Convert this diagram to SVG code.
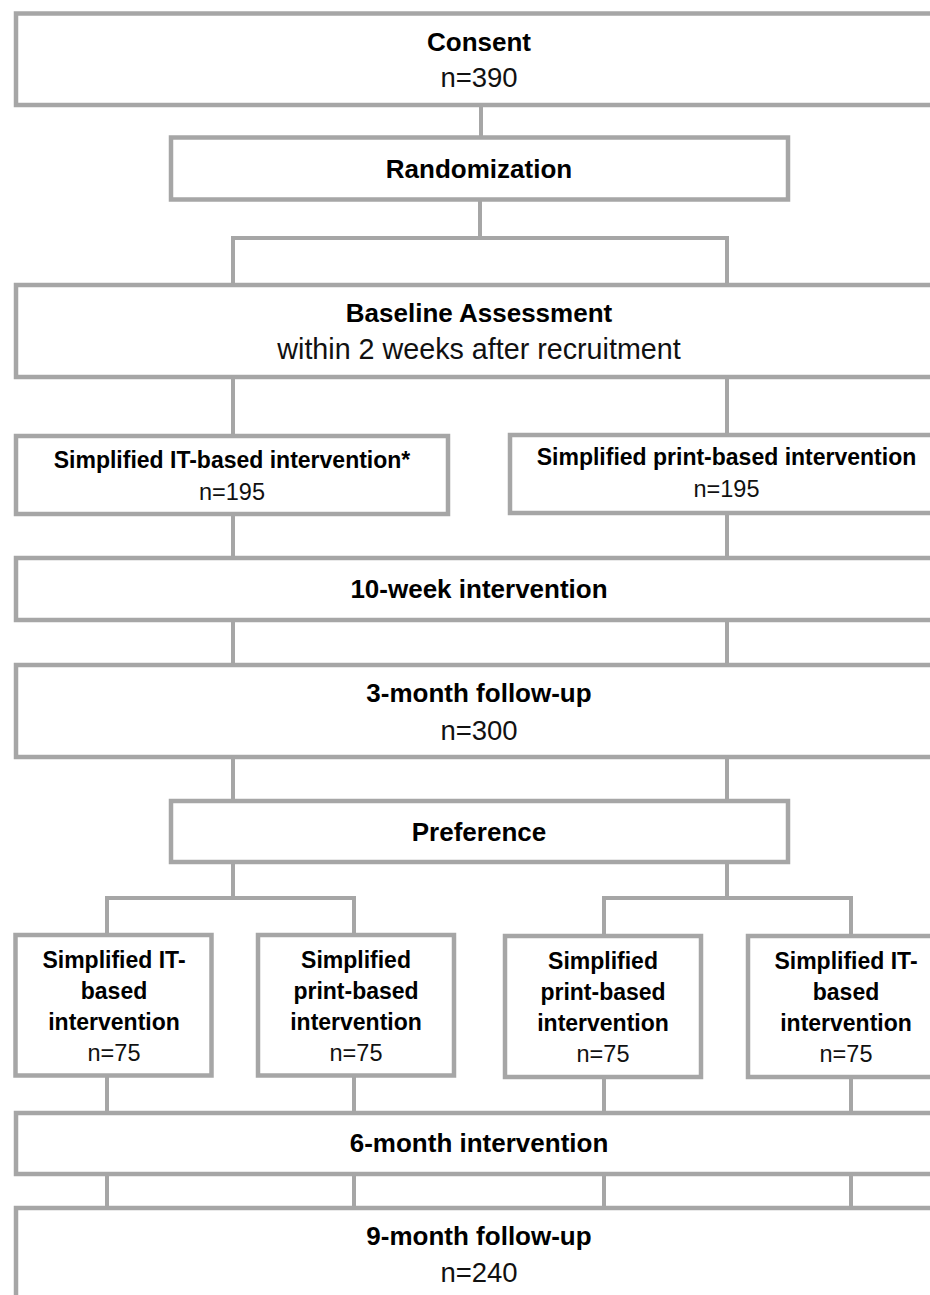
<svg xmlns="http://www.w3.org/2000/svg" width="930" height="1295" viewBox="0 0 930 1295">
<style>
.box{fill:#fff;stroke:#a6a6a6;stroke-width:4.5}
.ln{fill:none;stroke:#a6a6a6;stroke-width:4}
text{font-family:"Liberation Sans",Arial,sans-serif;text-anchor:middle;fill:#000}
.b{font-weight:bold;font-size:26px}
.r{font-size:27.5px;fill:#111}
.bs{font-weight:bold;font-size:23px}
.rs{font-size:23.5px;fill:#111}
</style>
<rect width="930" height="1295" fill="#fff"/>
<g id="connectors">
<path class="ln" d="M481,105 V138"/>
<path class="ln" d="M480,200 V238"/>
<path class="ln" d="M233,285 V238 H727 V285"/>
<path class="ln" d="M233,377 V436 M727,377 V435"/>
<path class="ln" d="M233,514 V558 M727,513 V558"/>
<path class="ln" d="M233,620 V665 M727,620 V665"/>
<path class="ln" d="M233,757 V801 M727,757 V801"/>
<path class="ln" d="M233,862 V898 M727,862 V898"/>
<path class="ln" d="M107,935 V898 H354 V935"/>
<path class="ln" d="M604,936 V898 H851 V936"/>
<path class="ln" d="M107,1075 V1113 M354,1075 V1113 M604,1077 V1113 M851,1077 V1113"/>
<path class="ln" d="M107,1174 V1208 M354,1174 V1208 M604,1174 V1208 M851,1174 V1208"/>
</g>
<g id="consent">
<rect class="box" x="16" y="13.5" width="940" height="91.5"/>
<text class="b" x="479" y="51">Consent</text>
<text class="r" x="479" y="87">n=390</text>
</g>
<g id="randomization">
<rect class="box" x="171" y="137.5" width="617" height="62"/>
<text class="b" x="479" y="177.5">Randomization</text>
</g>
<g id="baseline">
<rect class="box" x="16" y="285" width="940" height="92"/>
<text class="b" x="479" y="322">Baseline Assessment</text>
<text class="r" x="479" y="359" style="font-size:28.7px">within 2 weeks after recruitment</text>
</g>
<g id="it-based">
<rect class="box" x="16" y="436" width="432" height="78"/>
<text class="bs" x="232" y="468">Simplified IT-based intervention*</text>
<text class="rs" x="232" y="500">n=195</text>
</g>
<g id="print-based">
<rect class="box" x="510" y="435" width="440" height="78"/>
<text class="bs" x="726.5" y="465">Simplified print-based intervention</text>
<text class="rs" x="726.5" y="497">n=195</text>
</g>
<g id="ten-week">
<rect class="box" x="16" y="558" width="940" height="62"/>
<text class="b" x="479" y="598">10-week intervention</text>
</g>
<g id="three-month">
<rect class="box" x="16" y="665" width="940" height="92"/>
<text class="b" x="479" y="702">3-month follow-up</text>
<text class="r" x="479" y="740">n=300</text>
</g>
<g id="preference">
<rect class="box" x="171" y="801" width="617" height="61"/>
<text class="b" x="479" y="841">Preference</text>
</g>
<g id="pref-it-1">
<rect class="box" x="15.5" y="935" width="196" height="140.5"/>
<text class="bs" x="114" y="968">Simplified IT-</text>
<text class="bs" x="114" y="999">based</text>
<text class="bs" x="114" y="1030">intervention</text>
<text class="rs" x="114" y="1061">n=75</text>
</g>
<g id="pref-print-1">
<rect class="box" x="258" y="935" width="196" height="140.5"/>
<text class="bs" x="356" y="968">Simplified</text>
<text class="bs" x="356" y="999">print-based</text>
<text class="bs" x="356" y="1030">intervention</text>
<text class="rs" x="356" y="1061">n=75</text>
</g>
<g id="pref-print-2">
<rect class="box" x="505" y="936" width="196" height="141"/>
<text class="bs" x="603" y="969">Simplified</text>
<text class="bs" x="603" y="1000">print-based</text>
<text class="bs" x="603" y="1031">intervention</text>
<text class="rs" x="603" y="1062">n=75</text>
</g>
<g id="pref-it-2">
<rect class="box" x="748" y="936" width="200" height="141"/>
<text class="bs" x="846" y="969">Simplified IT-</text>
<text class="bs" x="846" y="1000">based</text>
<text class="bs" x="846" y="1031">intervention</text>
<text class="rs" x="846" y="1062">n=75</text>
</g>
<g id="six-month">
<rect class="box" x="16" y="1113" width="940" height="61"/>
<text class="b" x="479" y="1152">6-month intervention</text>
</g>
<g id="nine-month">
<rect class="box" x="16" y="1208" width="940" height="120"/>
<text class="b" x="479" y="1245">9-month follow-up</text>
<text class="r" x="479" y="1282">n=240</text>
</g>
</svg>
